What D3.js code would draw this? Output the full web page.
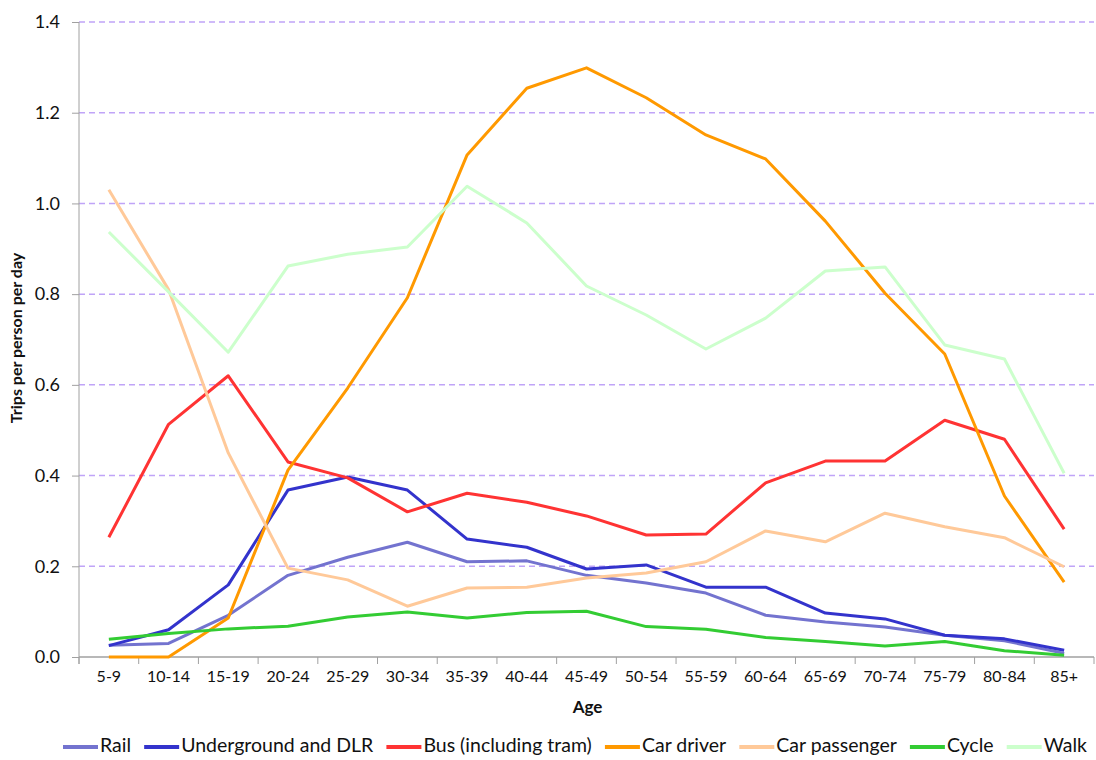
<!DOCTYPE html>
<html>
<head>
<meta charset="utf-8">
<script src="https://cdn.jsdelivr.net/npm/d3@7"></script>
<style>
  body { margin: 0; background: #fff; }
  text { font-family: Lato, "Open Sans", sans-serif; fill: #111; }
</style>
</head>
<body>
<svg id="chart"></svg>
<script>
// categories and series
const ages = ["5-9", "10-14", "15-19", "20-24", "25-29", "30-34", "35-39", "40-44", "45-49",
              "50-54", "55-59", "60-64", "65-69", "70-74", "75-79", "80-84", "85+"];

const rail        = [0.026, 0.030, 0.092, 0.180, 0.220, 0.253, 0.210, 0.212, 0.180, 0.163, 0.141, 0.092, 0.077, 0.066, 0.048, 0.036, 0.008];
const underground = [0.025, 0.060, 0.159, 0.368, 0.397, 0.368, 0.260, 0.242, 0.194, 0.203, 0.154, 0.154, 0.097, 0.084, 0.048, 0.040, 0.015];
const bus         = [0.264, 0.513, 0.620, 0.430, 0.395, 0.320, 0.361, 0.341, 0.311, 0.269, 0.271, 0.384, 0.432, 0.432, 0.522, 0.480, 0.282];
const carDriver   = [0.000, 0.000, 0.086, 0.412, 0.593, 0.792, 1.107, 1.254, 1.299, 1.233, 1.151, 1.098, 0.961, 0.802, 0.668, 0.355, 0.165];
const carPass     = [1.030, 0.810, 0.450, 0.196, 0.170, 0.112, 0.152, 0.154, 0.174, 0.185, 0.210, 0.278, 0.254, 0.317, 0.287, 0.263, 0.199];
const cycle       = [0.039, 0.052, 0.062, 0.068, 0.088, 0.099, 0.086, 0.098, 0.101, 0.067, 0.061, 0.043, 0.034, 0.024, 0.034, 0.014, 0.004];
const walk        = [0.937, 0.805, 0.672, 0.862, 0.888, 0.904, 1.038, 0.957, 0.818, 0.754, 0.679, 0.747, 0.851, 0.860, 0.688, 0.657, 0.405];

const seriesNames = ["Rail", "Underground and DLR", "Bus (including tram)", "Car driver", "Car passenger", "Cycle", "Walk"];
const yTicks = [0, 0.2, 0.4, 0.6, 0.8, 1.0, 1.2, 1.4];

const series = [rail, underground, bus, carDriver, carPass, cycle, walk];
const colors = ["#7373cf", "#3333cc", "#ff3333", "#ff9900", "#ffc999", "#33cc33", "#ccffcc"];

const W = 1096, H = 760;
const margin = { top: 22, right: 2, bottom: 103, left: 79 };
const width = W - margin.left - margin.right;
const height = H - margin.top - margin.bottom;

const svg = d3.select("#chart").attr("width", W).attr("height", H);
const g = svg.append("g").attr("transform", `translate(${margin.left},${margin.top})`);

const x = d3.scaleBand().domain(ages).range([0, width]);
const y = d3.scaleLinear().domain([0, 1.4]).range([height, 0]);

// dashed gridlines
g.selectAll(".grid").data(yTicks.filter(d => d > 0)).join("line")
  .attr("x1", 0).attr("x2", width)
  .attr("y1", d => y(d)).attr("y2", d => y(d))
  .attr("stroke", "#c0a4f8").attr("stroke-width", 1.5)
  .attr("stroke-dasharray", "6,4");

// y axis
const yAxis = g.append("g")
  .call(d3.axisLeft(y).tickValues(yTicks).tickFormat(d3.format(".1f")).tickSize(7).tickPadding(12));
yAxis.select(".domain").attr("stroke", "#a0a0a0").attr("d", `M0,${height + 7}V0`);
yAxis.selectAll(".tick line").attr("stroke", "#a0a0a0");
yAxis.selectAll("text").style("font-size", "18px").attr("fill", "#222");

// x axis: ticks on band boundaries
const xAxis = g.append("g").attr("transform", `translate(0,${height})`)
  .call(d3.axisBottom(x).tickSize(0).tickPadding(14));
xAxis.select(".domain").attr("stroke", "#a0a0a0").attr("stroke-width", 1.5).attr("d", `M0,0H${width}`);
xAxis.selectAll("text").style("font-size", "16px").attr("fill", "#222");
g.append("g").selectAll("line").data(ages.concat([null])).join("line")
  .attr("x1", (d, i) => i * x.step()).attr("x2", (d, i) => i * x.step())
  .attr("y1", height).attr("y2", height + 7)
  .attr("stroke", "#a0a0a0");

// lines
const line = d3.line()
  .x((d, i) => x(ages[i]) + x.bandwidth() / 2)
  .y(d => y(d));

g.selectAll(".series").data(series).join("path")
  .attr("fill", "none")
  .attr("stroke", (d, i) => colors[i])
  .attr("stroke-width", 3)
  .attr("stroke-linejoin", "round")
  .attr("d", line);

// axis titles
svg.append("text")
  .attr("transform", `translate(18,338) rotate(-90)`)
  .attr("text-anchor", "middle").attr("dominant-baseline", "middle")
  .style("font-size", "16px").style("font-weight", "bold")
  .text("Trips per person per day");

svg.append("text")
  .attr("x", margin.left + width / 2 + 1).attr("y", 709)
  .attr("text-anchor", "middle").attr("dominant-baseline", "middle")
  .style("font-size", "17px").style("font-weight", "bold")
  .text("Age");

// legend: spread items between the left and right ends
const legend = svg.append("g");
const items = legend.selectAll("g").data(seriesNames).join("g");
const swatchW = 35;
items.append("line")
  .attr("x1", 0).attr("x2", swatchW).attr("y1", 0).attr("y2", 0)
  .attr("stroke", (d, i) => colors[i]).attr("stroke-width", 4);
items.append("text")
  .attr("x", swatchW + 2).attr("dominant-baseline", "middle")
  .style("font-size", "19.5px")
  .text(d => d);

const widths = [];
items.each(function() { widths.push(swatchW + 2 + d3.select(this).select("text").node().getComputedTextLength()); });
const legLeft = 63, legRight = 1087;
const gap = (legRight - legLeft - d3.sum(widths)) / (widths.length - 1);
let cx = legLeft;
items.attr("transform", (d, i) => {
  const t = `translate(${cx},747)`;
  cx += widths[i] + gap;
  return t;
});
</script>
</body>
</html>
